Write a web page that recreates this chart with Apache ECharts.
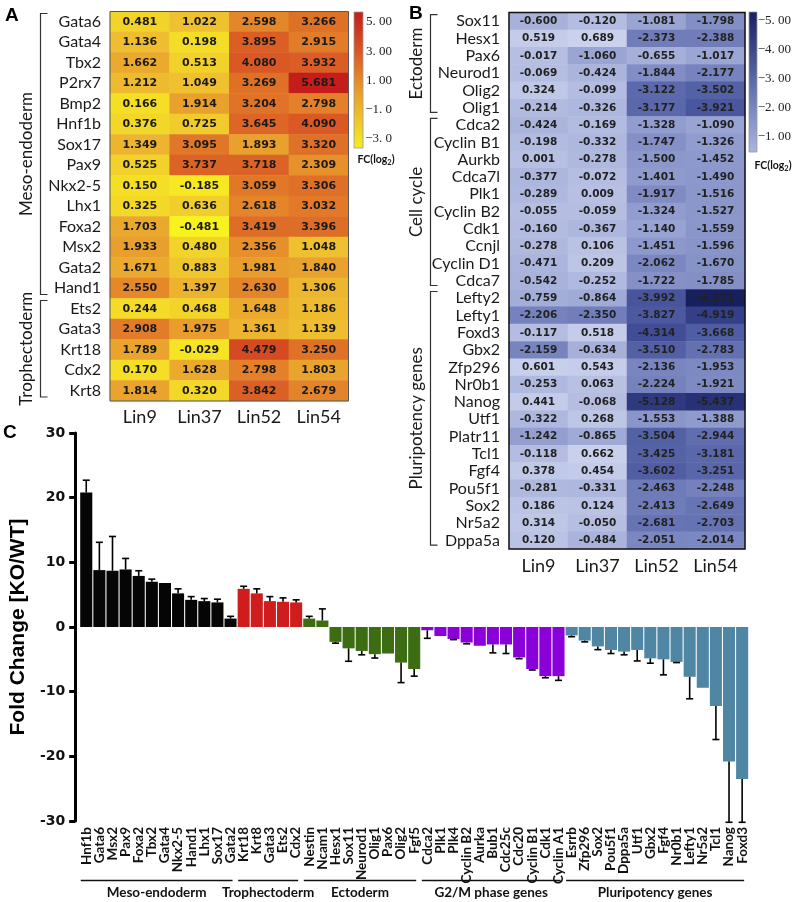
<!DOCTYPE html>
<html><head><meta charset="utf-8">
<script src="https://cdn.jsdelivr.net/npm/echarts@6/dist/echarts.min.js"></script>
<style>html,body{margin:0;padding:0;background:#fff}#c{width:793px;height:902px}</style>
</head><body><div id="c"></div><script>
// ---------- Panel A data ----------
const linCols = ['Lin9', 'Lin37', 'Lin52', 'Lin54'];
const aGenes = ['Gata6','Gata4','Tbx2','P2rx7','Bmp2','Hnf1b','Sox17','Pax9','Nkx2-5','Lhx1','Foxa2','Msx2','Gata2','Hand1','Ets2','Gata3','Krt18','Cdx2','Krt8'];
const aLin9  = [0.481,1.136,1.662,1.212,0.166,0.376,1.349,0.525,0.150,0.325,1.703,1.933,1.671,2.550,0.244,2.908,1.789,0.170,1.814];
const aLin37 = [1.022,0.198,0.513,1.049,1.914,0.725,3.095,3.737,-0.185,0.636,-0.481,0.480,0.883,1.397,0.468,1.975,-0.029,1.628,0.320];
const aLin52 = [2.598,3.895,4.080,3.269,3.204,3.645,1.893,3.718,3.059,2.618,3.419,2.356,1.981,2.630,1.648,1.361,4.479,2.798,3.842];
const aLin54 = [3.266,2.915,3.932,5.681,2.798,4.090,3.320,2.309,3.306,3.032,3.396,1.048,1.840,1.306,1.186,1.139,3.250,1.803,2.679];
const aGroupNames = ['Meso-endoderm', 'Trophectoderm'];
const aGroupFirst = ['Gata6', 'Ets2'];
const aGroupLast  = ['Hand1', 'Krt8'];
const aScaleValues = [5, 3, 1, -1, -3];
const aScaleLabels = ['5. 00', '3. 00', '1. 00', '\u22121. 0', '\u22123. 0'];

// ---------- Panel B data ----------
const bGenes = ['Sox11','Hesx1','Pax6','Neurod1','Olig2','Olig1','Cdca2','Cyclin B1','Aurkb','Cdca7l','Plk1','Cyclin B2','Cdk1','Ccnjl','Cyclin D1','Cdca7','Lefty2','Lefty1','Foxd3','Gbx2','Zfp296','Nr0b1','Nanog','Utf1','Platr11','Tcl1','Fgf4','Pou5f1','Sox2','Nr5a2','Dppa5a'];
const bLin9  = [-0.600,0.519,-0.017,-0.069,0.324,-0.214,-0.424,-0.198,0.001,-0.377,-0.289,-0.055,-0.160,-0.278,-0.471,-0.542,-0.759,-2.206,-0.117,-2.159,0.601,-0.253,0.441,-0.322,-1.242,-0.118,0.378,-0.281,0.186,0.314,0.120];
const bLin37 = [-0.120,0.689,-1.060,-0.424,-0.099,-0.326,-0.169,-0.332,-0.278,-0.072,0.009,-0.059,-0.367,0.106,0.209,-0.252,-0.864,-2.350,0.518,-0.634,0.543,0.063,-0.068,0.268,-0.865,0.662,0.454,-0.331,0.124,-0.050,-0.484];
const bLin52 = [-1.081,-2.373,-0.655,-1.844,-3.122,-3.177,-1.328,-1.747,-1.500,-1.401,-1.917,-1.324,-1.140,-1.451,-2.062,-1.722,-3.992,-3.827,-4.314,-3.510,-2.136,-2.224,-5.128,-1.553,-3.504,-3.425,-3.602,-2.463,-2.413,-2.681,-2.051];
const bLin54 = [-1.798,-2.388,-1.017,-2.177,-3.502,-3.921,-1.090,-1.326,-1.452,-1.490,-1.516,-1.527,-1.559,-1.596,-1.670,-1.785,-6.171,-4.919,-3.668,-2.783,-1.953,-1.921,-5.437,-1.388,-2.944,-3.181,-3.251,-2.248,-2.649,-2.703,-2.014];
const bGroupNames = ['Ectoderm', 'Cell cycle', 'Pluripotency genes'];
const bGroupFirst = ['Sox11', 'Cdca2', 'Lefty2'];
const bGroupLast  = ['Olig1', 'Cdca7', 'Dppa5a'];
const bScaleValues = [-5, -4, -3, -2, -1];
const bScaleLabels = ['\u22125. 00', '\u22124. 00', '\u22123. 00', '\u22122. 00', '\u22121. 00'];

// ---------- Panel C data ----------
const cMesoGenes = ['Hnf1b','Gata6','Msx2','Pax9','Foxa2','Tbx2','Gata4','Nkx2-5','Hand1','Lhx1','Sox17','Gata2'];
const cMesoFC    = [20.8, 8.8, 8.7, 8.9, 7.9, 7.0, 6.8, 5.2, 4.2, 4.0, 3.8, 1.3];
const cMesoErr   = [1.9, 4.3, 5.3, 1.7, 0.8, 0.4, 0.0, 0.7, 0.5, 0.4, 0.5, 0.35];
const cTrophGenes = ['Krt18','Krt8','Gata3','Ets2','Cdx2'];
const cTrophFC    = [5.9, 5.2, 4.0, 3.9, 3.8];
const cTrophErr   = [0.4, 0.7, 0.7, 0.6, 0.4];
const cEctoGenes = ['Nestin','Ncam1','Hesx1','Sox11','Neurod1','Olig1','Pax6','Olig2','Fgf5'];
const cEctoFC    = [1.3, 1.0, -2.3, -3.3, -3.7, -4.2, -4.1, -5.5, -6.5];
const cEctoErr   = [0.35, 1.8, 0.2, 2.0, 0.6, 0.6, 0.0, 3.1, 1.1];
const cG2MGenes = ['Cdca2','Plk1','Plk4','Cyclin B2','Aurka','Bub1','Cdc25c','Cdc20','Cyclin B1','Cdk1','Cyclin A1'];
const cG2MFC    = [-0.5, -1.4, -1.85, -2.4, -2.9, -2.7, -2.7, -4.7, -6.5, -7.6, -7.6];
const cG2MErr   = [1.25, 0.0, 0.1, 0.2, 0.0, 1.3, 1.4, 0.2, 0.15, 0.25, 0.65];
const cPluriGenes = ['Esrrb','Zfp296','Sox2','Pou5f1','Dppa5a','Utf1','Gbx2','Fgf4','Nr0b1','Lefty1','Nr5a2','Tcl1','Nanog','Foxd3'];
const cPluriFC    = [-1.3, -2.1, -3.0, -3.55, -3.8, -3.55, -4.85, -5.0, -5.4, -7.7, -9.4, -12.2, -20.8, -23.5];
const cPluriErr   = [0.2, 0.2, 0.5, 0.55, 0.5, 1.7, 0.75, 2.4, 0.1, 3.4, 0.0, 5.2, 9.4, 6.7];
const cGroupNames = ['Meso-endoderm', 'Trophectoderm', 'Ectoderm', 'G2/M phase genes', 'Pluripotency genes'];
const cYTicks = [-30, -20, -10, 0, 10, 20, 30];

// ---------- styles ----------
const cGroupColors = ['#050505', '#cf1d1d', '#3c6d12', '#8a00d8', '#4e86a3'];
const SANS = 'Lato, "Open Sans", "Noto Sans", sans-serif';

const cGroups = [
  [cMesoGenes, cMesoFC, cMesoErr],
  [cTrophGenes, cTrophFC, cTrophErr],
  [cEctoGenes, cEctoFC, cEctoErr],
  [cG2MGenes, cG2MFC, cG2MErr],
  [cPluriGenes, cPluriFC, cPluriErr]
];
const cGenes = [], cFC = [], cErr = [], cColor = [];
cGroups.forEach((g, gi) => {
  g[0].forEach((name, i) => { cGenes.push(name); cFC.push(g[1][i]); cErr.push(g[2][i]); cColor.push(cGroupColors[gi]); });
});

function heatData(genes, cols) {
  const d = [];
  genes.forEach((g, r) => cols.forEach((arr, c) => d.push([c, r, arr[r]])));
  return d;
}
const aData = heatData(aGenes, [aLin9, aLin37, aLin52, aLin54]);
const bData = heatData(bGenes, [bLin9, bLin37, bLin52, bLin54]);

const gridA = { left: 110, top: 11.5, width: 238.5, height: 389.5 };
const gridB = { left: 509, top: 12.6, width: 236, height: 536.5 };
const gridC = { left: 74.5, top: 433, width: 674.2, height: 388 };

const chart = echarts.init(document.getElementById('c'));
chart.setOption({
  animation: false,
  backgroundColor: '#fff',
  grid: [gridA, gridB, gridC],
  xAxis: [
    { gridIndex: 0, type: 'category', data: linCols, position: 'bottom',
      axisLine: { show: false }, axisTick: { show: false }, splitLine: { show: false },
      axisLabel: { interval: 0, fontFamily: SANS, fontSize: 18, color: '#1a1a1a', margin: 7 } },
    { gridIndex: 1, type: 'category', data: linCols, position: 'bottom',
      axisLine: { show: false }, axisTick: { show: false }, splitLine: { show: false },
      axisLabel: { interval: 0, fontFamily: SANS, fontSize: 18, color: '#1a1a1a', margin: 8 } },
    { gridIndex: 2, type: 'category', data: cGenes,
      axisLine: { show: false, onZero: false }, axisTick: { show: false }, splitLine: { show: false },
      axisLabel: { interval: 0, rotate: 90, fontFamily: SANS, fontWeight: 'bold', fontSize: 13.5, color: '#111', margin: 6 } }
  ],
  yAxis: [
    { gridIndex: 0, type: 'category', data: aGenes, inverse: true,
      axisLine: { show: false }, axisTick: { show: false }, splitLine: { show: false },
      axisLabel: { interval: 0, fontFamily: SANS, fontSize: 16, color: '#1a1a1a', margin: 9 } },
    { gridIndex: 1, type: 'category', data: bGenes, inverse: true,
      axisLine: { show: false }, axisTick: { show: false }, splitLine: { show: false },
      axisLabel: { interval: 0, fontFamily: SANS, fontSize: 16, color: '#1a1a1a', margin: 9 } },
    { gridIndex: 2, type: 'value', min: cYTicks[0], max: cYTicks[cYTicks.length - 1], interval: 10, offset: 4.5,
      axisLine: { show: true, lineStyle: { color: '#000', width: 3 } },
      axisTick: { show: true, length: 6, lineStyle: { color: '#000', width: 3 } },
      splitLine: { show: false },
      axisLabel: { fontFamily: '"DejaVu Sans", sans-serif', fontWeight: 'bold', fontSize: 14, color: '#111', margin: 10 },
      name: 'Fold Change [KO/WT]', nameLocation: 'middle', nameRotate: 90, nameGap: 38,
      nameTextStyle: { fontFamily: '"Liberation Sans", Arial, sans-serif', fontWeight: 'bold', fontSize: 21, color: '#000' } }
  ],
  visualMap: [
    { type: 'continuous', show: false, seriesIndex: 0, dimension: 2, min: -0.5, max: 5.7,
      inRange: { color: ['#f8f41e', '#efc030', '#e4862a', '#d95624', '#c41c1c'] } },
    { type: 'continuous', show: false, seriesIndex: 1, dimension: 2, min: -6.2, max: 0.7,
      inRange: { color: ['#161e5c', '#3d4a94', '#6472b2', '#9ba6d4', '#cad1ec'] } }
  ],
  series: [
    { type: 'heatmap', xAxisIndex: 0, yAxisIndex: 0, data: aData,
      label: { show: true, formatter: p => p.value[2].toFixed(3), fontFamily: '"DejaVu Sans", sans-serif', fontWeight: 'bold', fontSize: 11, color: '#1a1a1a' },
      emphasis: { disabled: true } },
    { type: 'heatmap', xAxisIndex: 1, yAxisIndex: 1, data: bData,
      label: { show: true, formatter: p => p.value[2].toFixed(3), fontFamily: '"DejaVu Sans", sans-serif', fontWeight: 'bold', fontSize: 10.5, color: '#222' },
      emphasis: { disabled: true } },
    { type: 'bar', xAxisIndex: 2, yAxisIndex: 2, barCategoryGap: '8%',
      data: cFC.map((v, i) => ({ value: v, itemStyle: { color: cColor[i] } })) },
    { type: 'custom', xAxisIndex: 2, yAxisIndex: 2, z: 4,
      data: cFC.map((v, i) => [i, v, cErr[i]]),
      renderItem: (params, api) => {
        const x = api.value(0), v = api.value(1), e = api.value(2);
        if (!e) return { type: 'group', children: [] };
        const p0 = api.coord([x, v]);
        const p1 = api.coord([x, v + Math.sign(v) * e]);
        const hw = 3.5;
        return { type: 'group', children: [
          { type: 'line', shape: { x1: p0[0], y1: p0[1], x2: p1[0], y2: p1[1] }, style: { stroke: '#000', lineWidth: 1.6 } },
          { type: 'line', shape: { x1: p1[0] - hw, y1: p1[1], x2: p1[0] + hw, y2: p1[1] }, style: { stroke: '#000', lineWidth: 1.6 } }
        ] };
      } }
  ]
});

// ---------- annotations computed from axes ----------
const g = [];
function txt(x, y, s, style, rot) {
  g.push({ type: 'text', x: x, y: y, rotation: rot || 0, silent: true, z: 10,
    style: Object.assign({ text: s, fill: '#000' }, style) });
}
function poly(points, stroke, w) {
  g.push({ type: 'polyline', silent: true, z: 10, shape: { points: points }, style: { stroke: stroke, lineWidth: w, fill: null } });
}
// panel letters
txt(5, 6, 'A', { font: 'bold 19px "Liberation Sans", Arial, sans-serif' });
txt(409, 4, 'B', { font: 'bold 19px "Liberation Sans", Arial, sans-serif' });
txt(3, 423, 'C', { font: 'bold 19px "Liberation Sans", Arial, sans-serif' });

// heatmap borders
g.push({ type: 'rect', silent: true, z: 9, shape: { x: gridA.left, y: gridA.top, width: gridA.width, height: gridA.height }, style: { fill: null, stroke: '#555', lineWidth: 1 } });
g.push({ type: 'rect', silent: true, z: 9, shape: { x: gridB.left, y: gridB.top, width: gridB.width, height: gridB.height }, style: { fill: null, stroke: '#111', lineWidth: 1.5 } });

// brackets for heatmaps
function brackets(axisIdx, genes, names, firsts, lasts, lineX, labelX) {
  const rowH = Math.abs(chart.convertToPixel({ yAxisIndex: axisIdx }, genes[1]) - chart.convertToPixel({ yAxisIndex: axisIdx }, genes[0]));
  names.forEach((nm, i) => {
    const yTop = chart.convertToPixel({ yAxisIndex: axisIdx }, firsts[i]) - rowH / 2 + 2;
    const yBot = chart.convertToPixel({ yAxisIndex: axisIdx }, lasts[i]) + rowH / 2 - 4;
    poly([[lineX + 7, yTop], [lineX, yTop], [lineX, yBot], [lineX + 7, yBot]], '#333', 1.2);
    txt(labelX, (yTop + yBot) / 2, nm, { font: '17px ' + SANS, fill: '#1a1a1a', align: 'center', verticalAlign: 'middle' }, Math.PI / 2);
  });
}
brackets(0, aGenes, aGroupNames, aGroupFirst, aGroupLast, 40.5, 27);
brackets(1, bGenes, bGroupNames, bGroupFirst, bGroupLast, 430.5, 417);

// colour scales
function colorScale(x, y, w, h, stops, vals, labels, yOfVal, labelRight, fcX, fcY) {
  g.push({ type: 'rect', silent: true, z: 9, shape: { x: x, y: y, width: w, height: h },
    style: { fill: new echarts.graphic.LinearGradient(0, 0, 0, 1, stops), stroke: '#999', lineWidth: 0.8 } });
  vals.forEach((v, i) => txt(labelRight, yOfVal(v), labels[i], { font: '13px "Liberation Serif", "DejaVu Serif", serif', fill: '#222', align: 'right', verticalAlign: 'middle' }));
  g.push({ type: 'text', x: fcX, y: fcY, silent: true, z: 10, style: {
    text: '{a|FC(log}{b|2}{a|)}', align: 'center', verticalAlign: 'middle',
    rich: { a: { font: 'bold 10.5px ' + SANS, fill: '#111' }, b: { font: 'bold 7.5px ' + SANS, fill: '#111', padding: [5, 0, 0, 0] } } } });
}
colorScale(354, 12, 9, 136,
  [{ offset: 0, color: '#c41c1c' }, { offset: 0.3, color: '#db5a24' }, { offset: 0.6, color: '#e9a02c' }, { offset: 1, color: '#f4ee24' }],
  aScaleValues, aScaleLabels, v => 22 + (5 - v) * (117 / 8), 392, 376, 160);
colorScale(749, 12, 8, 140,
  [{ offset: 0, color: '#171f60' }, { offset: 0.5, color: '#5d6baa' }, { offset: 1, color: '#aab6e0' }],
  bScaleValues, bScaleLabels, v => 21 + (v + 5) * (116 / 4), 791, 773, 166);

// group brackets under panel C
let idx = 0;
cGroups.forEach((grp, gi) => {
  const n = grp[0].length;
  const x0 = chart.convertToPixel({ xAxisIndex: 2 }, idx) - 5.5;
  const x1 = chart.convertToPixel({ xAxisIndex: 2 }, idx + n - 1) + 2;
  poly([[x0, 880.5], [x1, 880.5]], '#111', 1.5);
  txt((x0 + x1) / 2, 893, cGroupNames[gi], { font: 'bold 13.5px ' + SANS, fill: '#111', align: 'center', verticalAlign: 'middle' });
  idx += n;
});

chart.setOption({ graphic: { elements: g } });
</script></body></html>
